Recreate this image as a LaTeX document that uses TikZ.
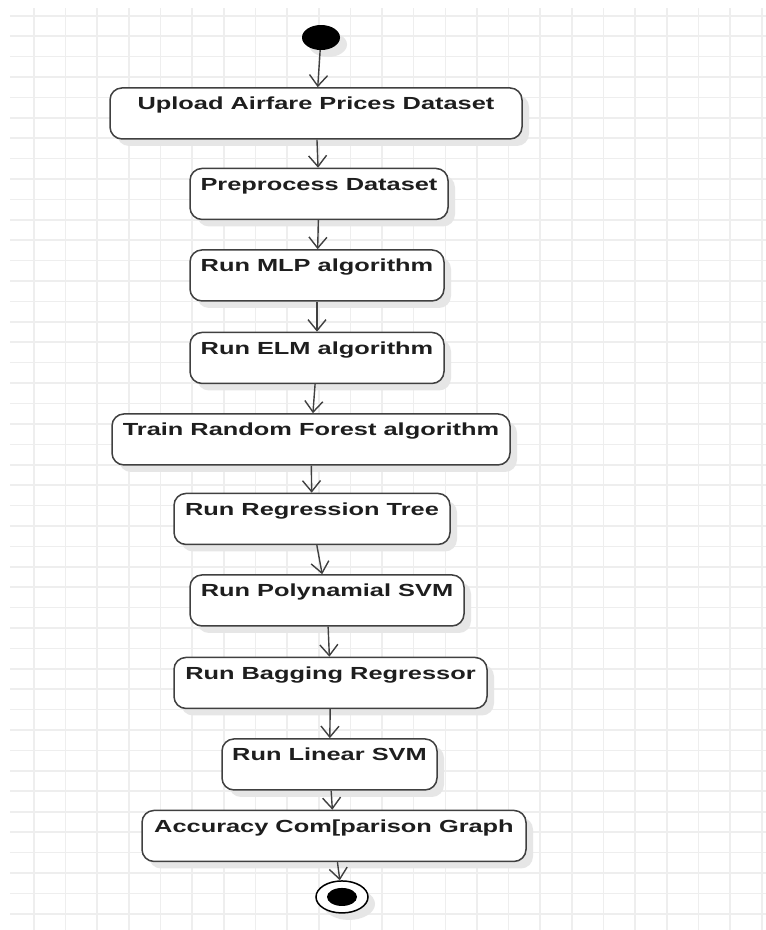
\documentclass[tikz,border=0pt]{standalone}
\usepackage{fontspec}
\usepackage{xcolor}
\usepackage{tikz}
\usetikzlibrary{shapes.geometric, arrows.meta, positioning, shadows}
\newfontfamily\actfont[FakeStretch=1.45]{Liberation Sans}
\definecolor{gridgray}{RGB}{238,238,238}
\definecolor{flowline}{RGB}{64,64,64}
\definecolor{flowtext}{RGB}{30,30,30}
\definecolor{flowshadow}{RGB}{230,230,230}

\begin{document}
\begin{tikzpicture}[
    x=1pt, y=-1pt,
    gridline/.style={draw=gridgray, line width=1.6pt},
    activity/.style={rectangle, rounded corners=12pt, draw=flowline, line width=1.5pt, fill=white, text=flowtext, font=\actfont\bfseries\fontsize{17.5}{20}\selectfont, inner sep=0pt, text height=22pt, text depth=29pt, drop shadow={shadow xshift=7pt, shadow yshift=-7pt, fill=flowshadow, opacity=1}},
    initial/.style={ellipse, fill=black, inner sep=0pt, minimum width=38pt, minimum height=25pt, drop shadow={shadow xshift=7pt, shadow yshift=-7pt, fill=flowshadow, opacity=1}},
    final/.style={ellipse, draw=black, line width=1.5pt, fill=white, inner sep=0pt, minimum width=52pt, minimum height=32pt, drop shadow={shadow xshift=7pt, shadow yshift=-7pt, fill=flowshadow, opacity=1},
        path picture={\fill[black] (path picture bounding box.center) ellipse (15pt and 9pt);}},
    arrow/.style={-{Straight Barb[length=11pt, width=18pt]}, line width=1.4pt, draw=flowline},
]
\useasboundingbox (0,0) rectangle (766,930);

% Grid
\fill[white] (0,0) rectangle (766,930);
\foreach \i in {0,...,23}
    \draw[gridline] ({34+31.64*\i},8) -- ({34+31.64*\i},930);
\foreach \j in {0,...,44}
    \draw[gridline] (10,{15.7+20.41*\j}) -- (766,{15.7+20.41*\j});

% Start
\node[initial] (start) at (321,37.5) {};

% Activities
\node[activity, minimum width=412pt, below=37pt of start, xshift=-5pt] (upload) {Upload Airfare Prices Dataset};
\node[activity, minimum width=258pt, below=28pt of upload, xshift=3pt] (preprocess) {Preprocess Dataset};
\node[activity, minimum width=254pt, below=29pt of preprocess, xshift=-2pt] (mlp) {Run MLP algorithm};
\node[activity, minimum width=254pt, below=30pt of mlp] (elm) {Run ELM algorithm};
\node[activity, minimum width=398pt, below=29pt of elm, xshift=-6pt] (forest) {Train Random Forest algorithm};
\node[activity, minimum width=276pt, below=27pt of forest, xshift=1pt] (regtree) {Run Regression Tree};
\node[activity, minimum width=274pt, below=29pt of regtree, xshift=15pt] (polysvm) {Run Polynamial SVM};
\node[activity, minimum width=313pt, below=30pt of polysvm, xshift=3.5pt] (bagging) {Run Bagging Regressor};
\node[activity, minimum width=215pt, below=29pt of bagging, xshift=-1pt] (linsvm) {Run Linear SVM};
\node[activity, minimum width=384pt, below=19pt of linsvm, xshift=4.5pt] (accuracy) {Accuracy Com[parison Graph};

% End
\node[final, below=18pt of accuracy, xshift=8pt] (finish) {};

% Arrows
\draw[arrow] (start) -- (upload);
\draw[arrow] (upload) -- (preprocess);
\draw[arrow] (preprocess) -- (mlp);
\draw[arrow] (mlp) -- (elm);
\draw[arrow] (elm) -- (forest);
\draw[arrow] (forest) -- (regtree);
\draw[arrow] (regtree) -- (polysvm);
\draw[arrow] (polysvm) -- (bagging);
\draw[arrow] (bagging) -- (linsvm);
\draw[arrow] (linsvm) -- (accuracy);
\draw[arrow] (accuracy) -- (finish);

\end{tikzpicture}
\end{document}
